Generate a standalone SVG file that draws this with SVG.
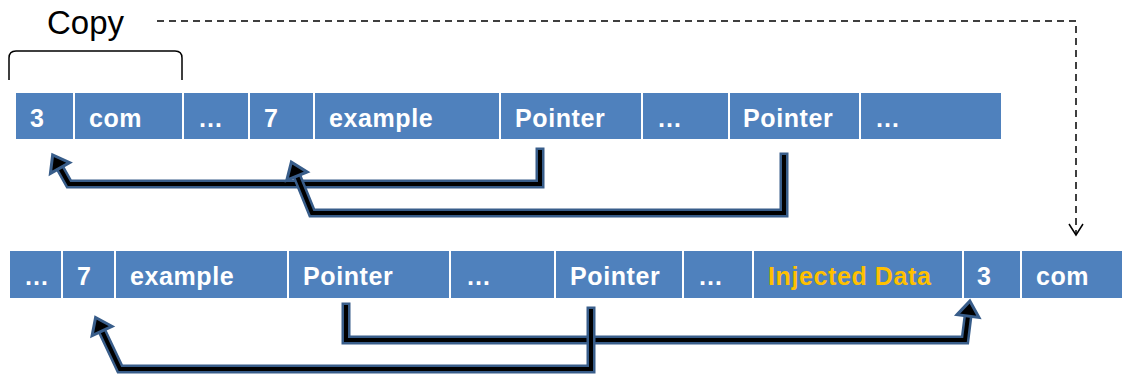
<svg xmlns="http://www.w3.org/2000/svg" width="1122" height="376" viewBox="0 0 1122 376">
  <style>
    .cell { fill: #4f81bd; }
    .lbl { font-family: "Liberation Sans", Arial, sans-serif; font-weight: bold; font-size: 25px; fill: #ffffff; letter-spacing: 0.6px; }
    .inj { fill: #ffc000; }
    .caption { font-family: "Liberation Sans", Arial, sans-serif; font-size: 33px; fill: #000000; }
    .edge-out { fill: none; stroke: #385d8a; stroke-width: 9; stroke-linejoin: miter; stroke-linecap: square; }
    .edge-in { fill: none; stroke: #000000; stroke-width: 4; stroke-linejoin: miter; stroke-linecap: square; }
    .dash { fill: none; stroke: #000000; stroke-width: 1.5; stroke-dasharray: 7 5; }
  </style>
  <defs>
    <marker id="head" markerUnits="userSpaceOnUse" orient="auto" markerWidth="32" markerHeight="32" viewBox="-4 -16 26 32" refX="0" refY="0" overflow="visible">
      <polygon points="0,-11 15,0 0,11" fill="#000000" stroke="#385d8a" stroke-width="3" stroke-linejoin="miter"/>
    </marker>
    <marker id="open" markerUnits="userSpaceOnUse" orient="auto" markerWidth="20" markerHeight="20" viewBox="-14 -10 20 20" refX="0" refY="0" overflow="visible">
      <polyline points="-11,-7 0,0 -11,7" fill="none" stroke="#000000" stroke-width="1.5"/>
    </marker>
  </defs>

  <rect width="1122" height="376" fill="#ffffff"/>

  <!-- copy bracket and caption -->
  <g id="copy">
    <text class="caption" x="47" y="34">Copy</text>
    <path d="M9 80 L9 58 Q9 51 16 51 L175 51 Q182 51 182 58 L182 80" fill="none" stroke="#000000" stroke-width="1.5"/>
  </g>

  <!-- source message -->
  <g id="src-3"><rect class="cell" x="16" y="93" width="57" height="46"/><text class="lbl" x="30" y="127">3</text></g>
  <g id="src-com"><rect class="cell" x="75" y="93" width="107" height="46"/><text class="lbl" x="89" y="127">com</text></g>
  <g id="src-gap1"><rect class="cell" x="184" y="93" width="64" height="46"/><text class="lbl" x="198" y="127">…</text></g>
  <g id="src-7"><rect class="cell" x="250" y="93" width="63" height="46"/><text class="lbl" x="264" y="127">7</text></g>
  <g id="src-example"><rect class="cell" x="315" y="93" width="184" height="46"/><text class="lbl" x="329" y="127">example</text></g>
  <g id="src-ptr1"><rect class="cell" x="501" y="93" width="140" height="46"/><text class="lbl" x="515" y="127">Pointer</text></g>
  <g id="src-gap2"><rect class="cell" x="643" y="93" width="85" height="46"/><text class="lbl" x="657" y="127">…</text></g>
  <g id="src-ptr2"><rect class="cell" x="730" y="93" width="129" height="46"/><text class="lbl" x="743" y="127">Pointer</text></g>
  <g id="src-gap3"><rect class="cell" x="861" y="93" width="140" height="46"/><text class="lbl" x="875" y="127">…</text></g>

  <!-- rewritten message -->
  <g id="dst-gap1"><rect class="cell" x="10" y="251" width="51" height="47"/><text class="lbl" x="24" y="285">…</text></g>
  <g id="dst-7"><rect class="cell" x="63" y="251" width="51" height="47"/><text class="lbl" x="77" y="285">7</text></g>
  <g id="dst-example"><rect class="cell" x="116" y="251" width="171" height="47"/><text class="lbl" x="130" y="285">example</text></g>
  <g id="dst-ptr1"><rect class="cell" x="289" y="251" width="160" height="47"/><text class="lbl" x="303" y="285">Pointer</text></g>
  <g id="dst-gap2"><rect class="cell" x="451" y="251" width="103" height="47"/><text class="lbl" x="466" y="285">…</text></g>
  <g id="dst-ptr2"><rect class="cell" x="556" y="251" width="126" height="47"/><text class="lbl" x="570" y="285">Pointer</text></g>
  <g id="dst-gap3"><rect class="cell" x="684" y="251" width="68" height="47"/><text class="lbl" x="698" y="285">…</text></g>
  <g id="dst-injected"><rect class="cell" x="754" y="251" width="208" height="47"/><text class="lbl inj" x="768" y="285">Injected Data</text></g>
  <g id="dst-3"><rect class="cell" x="964" y="251" width="56" height="47"/><text class="lbl" x="977" y="285">3</text></g>
  <g id="dst-com"><rect class="cell" x="1022" y="251" width="100" height="47"/><text class="lbl" x="1036" y="285">com</text></g>

  <!-- connectors -->
  <g id="connectors">
    <path class="dash" d="M157 21 H1076 V235" marker-end="url(#open)"/>

    <path class="edge-out" d="M540 152 V184 H69 L60 168"/>
    <path class="edge-in" d="M540 152 V184 H69 L60 168" marker-end="url(#head)"/>

    <path class="edge-out" d="M784 157 V213 H312 L297 176"/>
    <path class="edge-in" d="M784 157 V213 H312 L297 176" marker-end="url(#head)"/>

    <path class="edge-out" d="M346 307 V340 H965 L968 316"/>
    <path class="edge-in" d="M346 307 V340 H965 L968 316" marker-end="url(#head)"/>

    <path class="edge-out" d="M591 311 V369 H120 L102 331"/>
    <path class="edge-in" d="M591 311 V369 H120 L102 331" marker-end="url(#head)"/>
  </g>
</svg>
